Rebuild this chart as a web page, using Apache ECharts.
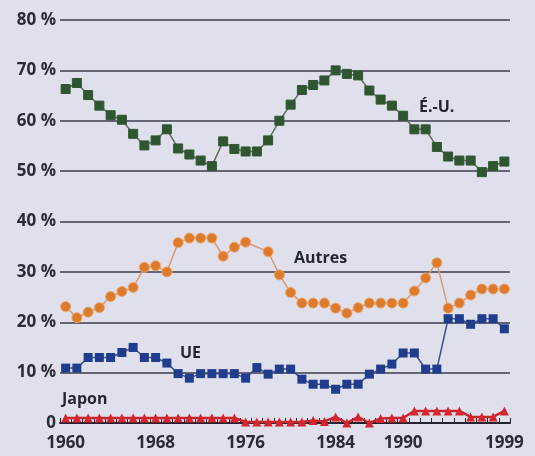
<!DOCTYPE html>
<html>
<head>
<meta charset="utf-8">
<script src="https://cdn.jsdelivr.net/npm/echarts@6/dist/echarts.min.js"></script>
<style>
html,body{margin:0;padding:0;background:#e0e0ed;}
#c{width:535px;height:456px;}
</style>
</head>
<body>
<div id="c"></div>
<script>
var years = [];
for (var y = 1960; y <= 1999; y++) years.push(String(y));

var xTickLabels = ['1960', '1968', '1976', '1984', '1990', '1999'];
var yTickLabels = ['0', '10 %', '20 %', '30 %', '40 %', '50 %', '60 %', '70 %', '80 %'];

var seriesNames = ['É.-U.', 'Autres', 'UE', 'Japon'];

var usValues = [66.3, 67.5, 65.1, 63.0, 61.1, 60.2, 57.4, 55.1, 56.1, 58.3,
                54.5, 53.3, 52.1, 51.0, 55.9, 54.4, 53.9, 53.9, 56.1, 60.0,
                63.2, 66.1, 67.1, 68.0, 70.0, 69.3, 69.0, 66.0, 64.2, 63.0,
                61.0, 58.3, 58.3, 54.8, 52.9, 52.1, 52.1, 49.8, 51.0, 51.9];

var autresValues = [23.1, 20.9, 22.0, 22.9, 25.1, 26.1, 26.9, 30.9, 31.2, 30.0,
                    35.8, 36.7, 36.7, 36.7, 33.1, 34.9, 35.9, null, 34.0, 29.4,
                    25.9, 23.8, 23.8, 23.8, 22.8, 21.8, 22.9, 23.8, 23.8, 23.8,
                    23.8, 26.2, 28.8, 31.8, 22.8, 23.8, 25.4, 26.6, 26.6, 26.6];

var ueValues = [10.9, 10.9, 13.0, 13.0, 13.0, 14.0, 15.0, 13.0, 13.0, 11.9,
                9.8, 8.9, 9.8, 9.8, 9.8, 9.8, 8.9, 11.0, 9.7, 10.7,
                10.7, 8.7, 7.7, 7.7, 6.7, 7.7, 7.7, 9.7, 10.7, 11.7,
                13.9, 13.9, 10.7, 10.7, 20.7, 20.7, 19.6, 20.7, 20.7, 18.7];

var japonValues = [1.0, 1.0, 1.0, 1.0, 1.0, 1.0, 1.0, 1.0, 1.0, 1.0,
                   1.0, 1.0, 1.0, 1.0, 1.0, 1.0, 0.2, 0.2, 0.2, 0.2,
                   0.2, 0.2, 0.5, 0.3, 1.2, 0.0, 1.2, 0.0, 0.9, 1.0,
                   1.0, 2.4, 2.4, 2.4, 2.4, 2.4, 1.2, 1.2, 1.2, 2.4];

var chart = echarts.init(document.getElementById('c'), null, {renderer: 'canvas'});
var fontFam = '"Open Sans", "Noto Sans", sans-serif';
var gridCol = '#3d3d4e';

chart.setOption({
  backgroundColor: '#e0e0ed',
  animation: false,
  grid: {left: 60, right: 25, top: 20, bottom: 33},
  xAxis: {
    type: 'category',
    data: years,
    boundaryGap: true,
    axisLine: {show: true, lineStyle: {color: '#222230', width: 2}},
    axisTick: {show: true, inside: true, length: 5, interval: 0, lineStyle: {color: '#222230', width: 1}},
    axisLabel: {
      interval: function (i, v) { return xTickLabels.indexOf(v) >= 0; },
      color: '#2b2b38', fontSize: 17, fontWeight: 'bold', fontFamily: fontFam, margin: 12
    },
    splitLine: {show: false}
  },
  yAxis: {
    type: 'value',
    min: 0, max: 80, interval: 10,
    axisLine: {show: false},
    axisTick: {show: false},
    axisLabel: {
      formatter: function (v) { return yTickLabels[Math.round(v / 10)]; },
      color: '#2b2b38', fontSize: 17, fontWeight: 'bold', fontFamily: fontFam, margin: 4
    },
    splitLine: {show: true, lineStyle: {color: gridCol, width: 1.6}}
  },
  series: [
    {
      name: seriesNames[0], type: 'line', data: usValues, z: 4, showAllSymbol: true,
      symbol: 'rect', symbolSize: 9,
      itemStyle: {color: '#2f5630', borderColor: '#2f5630'},
      lineStyle: {color: '#5c6e5a', width: 1.5}
    },
    {
      name: seriesNames[1], type: 'line', data: autresValues, z: 4, connectNulls: true, showAllSymbol: true,
      symbol: 'circle', symbolSize: 10,
      itemStyle: {color: '#de7a2c', borderColor: '#e9a56a', borderWidth: 1},
      lineStyle: {color: '#d59a72', width: 1.5}
    },
    {
      name: seriesNames[2], type: 'line', data: ueValues, z: 4, showAllSymbol: true,
      symbol: 'rect', symbolSize: 9,
      itemStyle: {color: '#1f3d8c'},
      lineStyle: {color: '#3a4f8e', width: 1.5}
    },
    {
      name: seriesNames[3], type: 'line', data: japonValues, z: 3, showAllSymbol: true,
      symbol: 'triangle', symbolSize: 9,
      itemStyle: {color: '#d4262e'},
      lineStyle: {color: '#c8252c', width: 2.5}
    }
  ],
  graphic: [
    {type: 'text', left: 419, top: 99, style: {text: seriesNames[0], fill: '#262632', font: 'bold 16px ' + fontFam}},
    {type: 'text', left: 294, top: 250, style: {text: seriesNames[1], fill: '#262632', font: 'bold 16px ' + fontFam}},
    {type: 'text', left: 180, top: 345, style: {text: seriesNames[2], fill: '#262632', font: 'bold 16px ' + fontFam}},
    {type: 'text', left: 62, top: 391, style: {text: seriesNames[3], fill: '#262632', font: 'bold 16px ' + fontFam}}
  ]
});
</script>
</body>
</html>
